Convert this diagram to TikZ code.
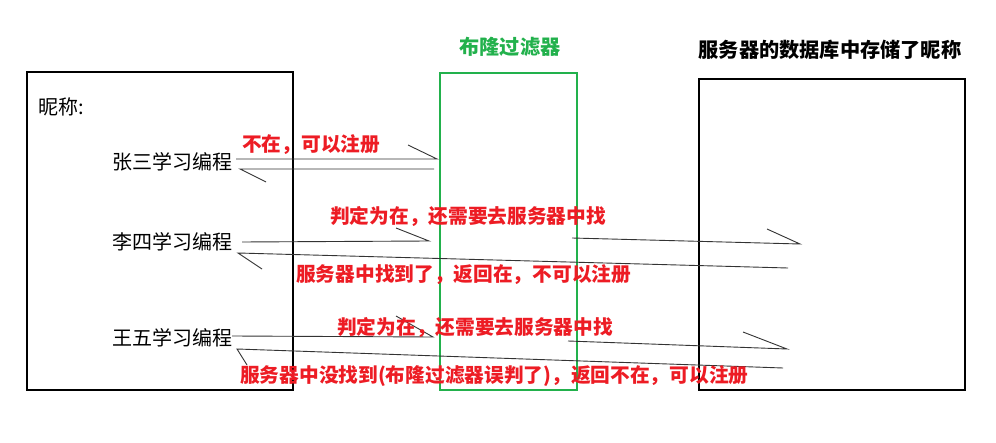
\documentclass[tikz,border=0pt]{standalone}
\usepackage{fontspec}
\setmainfont{Noto Sans CJK SC}
\definecolor{pred}{RGB}{237,28,36}
\definecolor{pgreen}{RGB}{34,177,76}
\begin{document}
\begin{tikzpicture}[x=1pt,y=-1pt,
  blackbox/.style={draw=black,line width=2.8pt},
  greenbox/.style={draw=pgreen,line width=2.8pt},
  handarrow/.style={draw=black!80,line width=0.9pt},
  nametext/.style={anchor=west,inner sep=0pt,font=\fontsize{20}{20}\selectfont},
  notetext/.style={anchor=west,inner sep=0pt,text=pred,font=\fontsize{19.7}{19.7}\selectfont\bfseries},
  titletext/.style={inner sep=0pt,font=\fontsize{20.2}{20.2}\selectfont\bfseries}]
\useasboundingbox (0,0) rectangle (996,443);
\fill[white] (0,0) rectangle (996,443);
% boxes
\draw[blackbox] (27,72) rectangle (293,390);
\draw[greenbox] (440,73) rectangle (577,390);
\draw[blackbox] (699,79) rectangle (965,390);
% titles
\node[titletext,text=pgreen] (tbf) at (510,47) {布隆过滤器};
\node[titletext] (tdb) at (830,50) {服务器的数据库中存储了昵称};
\node[nametext] (nick) at (38,107) {昵称:};
\node[nametext] (zs) at (112,162) {张三学习编程};
\node[nametext] (ls) at (112,242) {李四学习编程};
\node[nametext] (ww) at (112,338) {王五学习编程};
% coordinates for hand-drawn arrows
\coordinate (a1s) at (236,159); \coordinate (a1e) at (437,159); \coordinate (a1b) at (408,145);
\coordinate (r1s) at (434,169); \coordinate (r1e) at (240,169); \coordinate (r1b) at (266,182);
\coordinate (a2s) at (242,242); \coordinate (a2e) at (429,241); \coordinate (a2b) at (396,228);
\coordinate (a3s) at (572,238); \coordinate (a3e) at (800,244); \coordinate (a3b) at (767,229);
\coordinate (r2s) at (788,268); \coordinate (r2e) at (238,253); \coordinate (r2b) at (262,269);
\coordinate (a4s) at (232,336); \coordinate (a4e) at (433,337); \coordinate (a4b) at (396,316);
\coordinate (a5s) at (568,341); \coordinate (a5e) at (787,349); \coordinate (a5b) at (743,332);
\coordinate (r3s) at (783,368); \coordinate (r3e) at (237,349); \coordinate (r3b) at (247,365);
\draw[handarrow] (a1s) -- (a1e) -- (a1b);
\draw[handarrow] (r1s) -- (r1e) -- (r1b);
\draw[handarrow] (a2s) -- (a2e) -- (a2b);
\draw[handarrow] (a3s) -- (a3e) -- (a3b);
\draw[handarrow] (r2s) -- (r2e) -- (r2b);
\draw[handarrow] (a4s) -- (a4e) -- (a4b);
\draw[handarrow] (a5s) -- (a5e) -- (a5b);
\draw[handarrow] (r3s) -- (r3e) -- (r3b);
% red notes
\node[notetext] (n1) at (242,145) {不在，可以注册};
\node[notetext] (n2) at (330,216) {判定为在，还需要去服务器中找};
\node[notetext] (n3) at (296,275) {服务器中找到了，返回在，不可以注册};
\node[notetext] (n4) at (337,327) {判定为在，还需要去服务器中找};
\node[notetext] (n5) at (240,376) {服务器中没找到(布隆过滤器误判了)，返回不在，可以注册};
\end{tikzpicture}
\end{document}
